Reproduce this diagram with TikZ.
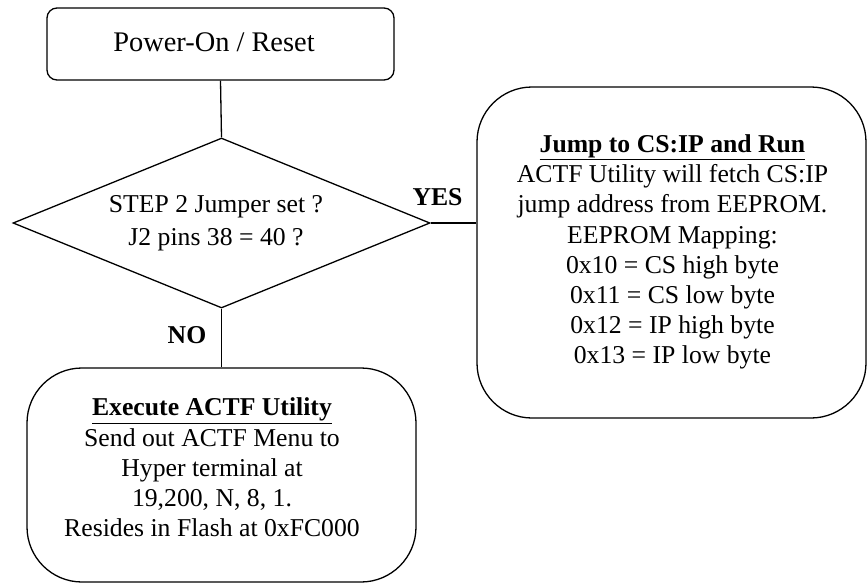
\documentclass[tikz,border=0pt]{standalone}
\usepackage{fontspec}
\setmainfont{Liberation Serif}
\usetikzlibrary{shapes.geometric}
\tikzset{
  ln/.style={line width=1.3pt},
  boxA/.style={draw, ln, rounded corners=10pt, minimum width=347pt, minimum height=72pt, inner sep=0pt},
  boxB/.style={draw, ln, rounded corners=55pt, inner sep=0pt},
  dia/.style={draw, ln, diamond, minimum width=417pt, minimum height=170pt, inner sep=0pt},
  txt/.style={align=center, inner sep=0pt, font=\fontsize{25.7pt}{30.2pt}\selectfont},
  lbl/.style={inner sep=0pt, font=\fontsize{25.7pt}{30pt}\selectfont\bfseries}
}
\begin{document}
\begin{tikzpicture}[x=1pt,y=-1pt]
\useasboundingbox (0,0) rectangle (868,584);
\node[boxA] (top) at (220.5,44) {};
\node[inner sep=0pt, font=\fontsize{28.4pt}{32pt}\selectfont] (toptxt) at (214,42.5) {Power-On / Reset};
\node[dia] (dec) at (221.5,223) {};
\node[txt, font=\fontsize{25.7pt}{32.7pt}\selectfont] (dectxt) at (216,223.5) {STEP 2 Jumper set ?\\J2 pins 38 = 40 ?};
\node[boxB, minimum width=389pt, minimum height=331pt] (jump) at (671.5,252.5) {};
\node[txt] (jumptxt) at (672.5,252) {\underline{\textbf{Jump to CS:IP and Run}}\\ACTF Utility will fetch CS:IP\\jump address from EEPROM.\\EEPROM Mapping:\\0x10 = CS high byte\\0x11 = CS low byte\\0x12 = IP high byte\\0x13 = IP low byte};
\node[boxB, minimum width=389pt, minimum height=214pt] (exec) at (221.5,475) {};
\node[txt] (exectxt) at (212,467.5) {\underline{\textbf{Execute ACTF Utility}}\\Send out ACTF Menu to\\Hyper terminal at\\19,200, N, 8, 1.\\Resides in Flash at 0xFC000};
\draw[ln] (top.south) -- (dec.north);
\draw[ln] (dec.east) -- (dec.east -| jump.west);
\draw[ln] (dec.south) -- (exec.north);
\node[lbl] (yes) at (437.5,197) {YES};
\node[lbl] (no) at (187,335) {NO};
\end{tikzpicture}
\end{document}
